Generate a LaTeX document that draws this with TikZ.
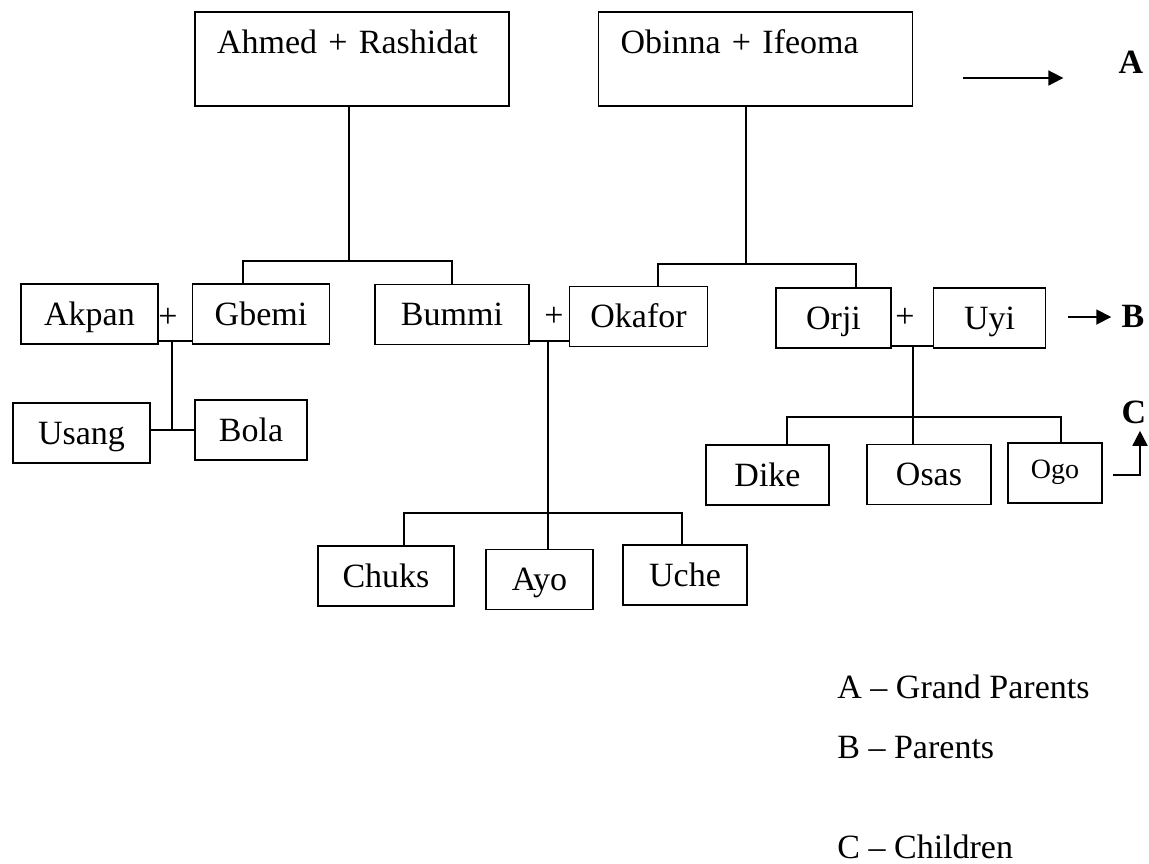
\documentclass[tikz,border=0pt]{standalone}
\usepackage{fontspec}
\setmainfont{Liberation Serif}
\usetikzlibrary{
  arrows.meta,
  positioning
}
\newcommand{\namesize}{\fontsize{17pt}{20pt}\selectfont}
\newcommand{\smallname}{\fontsize{14pt}{16pt}\selectfont}
\tikzset{
  base/.style={
    font=\namesize,
    text=black,
  },
  couple/.style={
    base,
    draw,
    line width=0.75pt,
    align=left,
    text width=135pt,
    inner xsep=11pt,
    inner ysep=0pt,
    text height=20.5pt,
    text depth=26.5pt,
    minimum width=157pt,
    minimum height=47pt,
  },
  person/.style={
    base,
    draw,
    line width=0.75pt,
    inner sep=0pt,
    text height=14pt,
    text depth=3pt,
    minimum width=#1,
    minimum height=30pt,
  },
  person/.default=68.5pt,
  plus/.style={
    base,
    inner sep=0pt,
  },
  link/.style={
    line width=0.65pt,
    draw=black,
  },
  keyarrow/.style={
    -{Triangle[length=7.5pt, width=7.5pt]},
    line width=0.9pt,
  },
  key/.style={
    font=\namesize\bfseries,
    inner sep=0pt,
  },
  legend/.style={
    base,
    anchor=base west,
    inner sep=0pt,
  },
}

\begin{document}
\begin{tikzpicture}[x=0.5pt, y=-0.5pt]
\useasboundingbox (0,0) rectangle (1149,863);

% === ROW 1: Grand parents ===

\node[couple] (ahmed) at (352,59) {Ahmed + Rashidat};
\node[couple] (obinna) at (755.5,59) {Obinna + Ifeoma};

% === ROW 2: Parents ===

\node[person] (akpan) at (89.5,314) {Akpan};
\node[person, right=16.5pt of akpan] (gbemi) {Gbemi};
\node[person=77pt] (bummi) at (452,314.5) {Bummi};
\node[person=69pt, right=19.5pt of bummi, yshift=-1pt] (okafor) {Okafor};
\node[person=57.5pt] (orji) at (833.5,318) {Orji};
\node[person=56pt, right=20.5pt of orji] (uyi) {Uyi};

\node[plus] (plusag) at (168,318) {+};
\node[plus] (plusbo) at (554,317) {+};
\node[plus] (plusou) at (905,318) {+};

% grand parents down to their children
\coordinate (astem) at (349,261);
\coordinate (abarL) at (243,261);
\coordinate (abarR) at (452,261);
\draw[link] (astem |- ahmed.south) -- (astem);
\draw[link] (abarL |- gbemi.north) -- (abarL) -- (abarR) -- (abarR |- bummi.north);

\coordinate (ostem) at (746,264);
\coordinate (obarL) at (658,264);
\coordinate (obarR) at (856,264);
\draw[link] (ostem |- obinna.south) -- (ostem);
\draw[link] (obarL |- okafor.north) -- (obarL) -- (obarR) -- (obarR |- orji.north);

% === ROW 3: Children ===

\node[person] (usang) at (81.5,433) {Usang};
\node[person=56pt] (bola) at (251,430) {Bola};
\node[person=61.5pt] (dike) at (767.5,475) {Dike};
\node[person=62pt] (osas) at (929,474.5) {Osas};
\node[person=47pt, font=\smallname, text height=9pt, text depth=4pt] (ogo) at (1055,473) {Ogo};
\node[person=68pt] (chuks) at (386,576) {Chuks};
\node[person=53.5pt] (ayo) at (539.5,579.5) {Ayo};
\node[person=62pt] (uche) at (685,575) {Uche};

% Akpan + Gbemi
\coordinate (ag) at (172,341);
\coordinate (agkids) at (172,430);
\draw[link] (akpan.east |- ag) -- (gbemi.west |- ag);
\draw[link] (ag) -- (agkids);
\draw[link] (usang.east |- agkids) -- (agkids) -- (bola.west |- agkids);

% Bummi + Okafor
\coordinate (bo) at (548,341);
\coordinate (bkL) at (404,513);
\coordinate (bkR) at (682,513);
\draw[link] (bummi.east |- bo) -- (okafor.west |- bo);
\draw[link] (bo) -- (bo |- ayo.north);
\draw[link] (bkL |- chuks.north) -- (bkL) -- (bkR) -- (bkR |- uche.north);

% Orji + Uyi
\coordinate (ou) at (913,346);
\coordinate (okL) at (787,417);
\coordinate (okR) at (1061,417);
\draw[link] (orji.east |- ou) -- (uyi.west |- ou);
\draw[link] (ou) -- (ou |- osas.north);
\draw[link] (okL |- dike.north) -- (okL) -- (okR) -- (okR |- ogo.north);

% === Key arrows ===

\node[key] (keyA) at (1131,62) {A};
\node[key] (keyB) at (1133,316) {B};
\node[key] (keyC) at (1134,412) {C};

\coordinate (atail) at (963,78);
\draw[keyarrow, shorten >=27.5pt] (atail) -- (atail -| keyA.west);

\coordinate (btail) at (1068,317);
\draw[keyarrow, shorten >=5pt] (btail) -- (btail -| keyB.west);

\coordinate (cfoot) at (1113,475);
\coordinate (cbend) at (1140,475);
\draw[keyarrow, shorten >=3.5pt] (cfoot) -- (cbend) -- (cbend |- keyC.south);

% === Legend ===

\node[legend] (legA) at (837,698) {A – Grand Parents};
\node[legend] (legB) at (837,758) {B – Parents};
\node[legend] (legC) at (837,858) {C – Children};

\end{tikzpicture}
\end{document}
